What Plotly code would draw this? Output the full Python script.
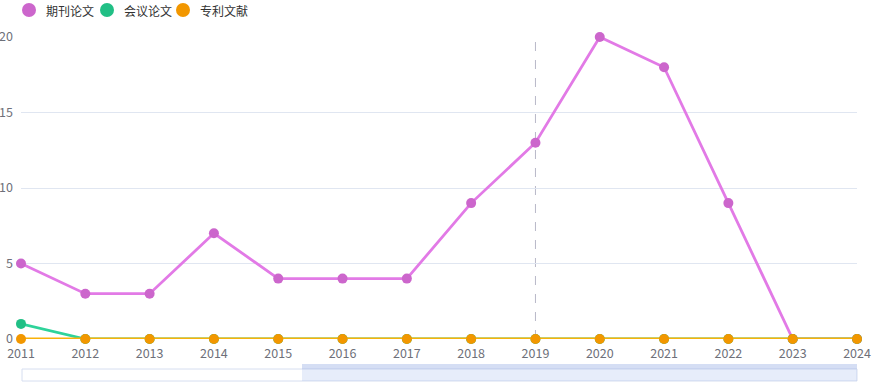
import plotly.graph_objects as go

years = [2011, 2012, 2013, 2014, 2015, 2016, 2017, 2018, 2019, 2020, 2021, 2022, 2023, 2024]
journal = [5, 3, 3, 7, 4, 4, 4, 9, 13, 20, 18, 9, 0, 0]
conference = [1, 0, 0, 0, 0, 0, 0, 0, 0, 0, 0, 0, 0, 0]
patent = [0, 0, 0, 0, 0, 0, 0, 0, 0, 0, 0, 0, 0, 0]
names = ["期刊论文", "会议论文", "专利文献"]

W, H = 874, 384
L, R, T, B = 21, 17, 37, 45
pw, ph = W - L - R, H - T - B

def px2x(p):
    return (p - L) / pw

def px2y(p):
    return (H - B - p) / ph

fig = go.Figure()
series = [
    (journal, names[0], "#e27ae6", "#cc66cc"),
    (conference, names[1], "#2ed39a", "#21bf85"),
    (patent, names[2], "#f9b10a", "#f29700"),
]
for vals, nm, lc, mc in series:
    fig.add_trace(go.Scatter(
        x=years, y=vals, name=nm, mode="lines+markers",
        line=dict(color=lc, width=2.8),
        marker=dict(color=mc, size=10),
        cliponaxis=False, showlegend=False,
    ))

# legend (echarts-style: circle + label)
legend_x = [29, 107, 183]
for (vals, nm, lc, mc), cx in zip(series, legend_x):
    fig.add_shape(type="circle", xref="paper", yref="paper",
                  xsizemode="pixel", ysizemode="pixel",
                  xanchor=px2x(cx), yanchor=px2y(10),
                  x0=-7, x1=7, y0=-7, y1=7,
                  fillcolor=mc, line=dict(width=0))
    fig.add_annotation(xref="paper", yref="paper", x=px2x(cx + 15), y=px2y(10),
                       xanchor="left", yanchor="middle", showarrow=False,
                       text=nm, font=dict(size=12, color="#333333"))

# hover crosshair at 2019
fig.add_shape(type="line", xref="x", yref="paper", x0=2019, x1=2019, y0=0, y1=1,
              line=dict(color="#b8b8c8", width=1, dash="dash"), layer="below")

# data zoom slider decoration
fig.add_shape(type="rect", xref="paper", yref="paper",
              x0=px2x(22), x1=px2x(857), y0=px2y(381), y1=px2y(369),
              line=dict(color="#d6def0", width=1), fillcolor="white")
fig.add_shape(type="rect", xref="paper", yref="paper",
              x0=px2x(302), x1=px2x(857), y0=px2y(381), y1=px2y(364),
              line=dict(width=0), fillcolor="rgba(135,165,230,0.20)")
fig.add_shape(type="rect", xref="paper", yref="paper",
              x0=px2x(302), x1=px2x(857), y0=px2y(369), y1=px2y(364),
              line=dict(width=0), fillcolor="rgba(135,155,215,0.18)")

fig.update_layout(
    width=W, height=H,
    margin=dict(l=L, r=R, t=T, b=B, autoexpand=False),
    paper_bgcolor="white", plot_bgcolor="white",
    font=dict(family="Noto Sans CJK SC, sans-serif", size=12, color="#6e7079"),
    showlegend=False,
    xaxis=dict(range=[2011, 2024], tickmode="array", tickvals=years,
               ticktext=[str(y) for y in years], showgrid=False, zeroline=False,
               showline=False, ticks="", automargin=False, ticklabelstandoff=5,
               tickfont=dict(size=12.5, color="#6e7079")),
    yaxis=dict(range=[0, 20], tickvals=[0, 5, 10, 15, 20], showgrid=True,
               gridcolor="#e0e6f1", gridwidth=1, zeroline=False, showline=False,
               ticks="", ticklabelstandoff=7, automargin=False,
               tickfont=dict(size=12.5, color="#6e7079")),
)

fig.write_html("out.html")
